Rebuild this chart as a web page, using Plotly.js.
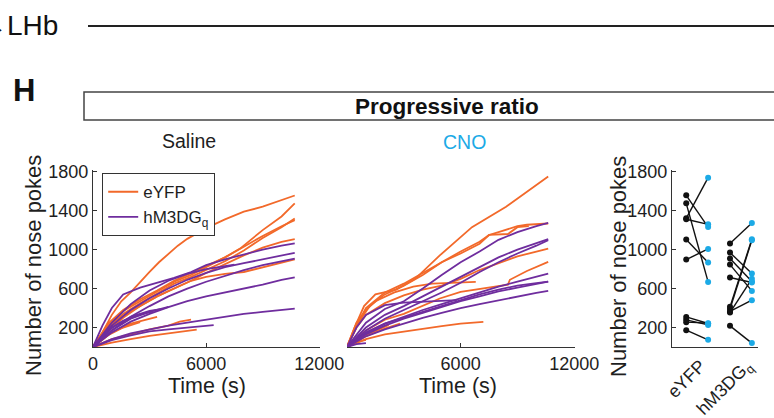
<!DOCTYPE html>
<html>
<head>
<meta charset="utf-8">
<script src="https://cdn.plot.ly/plotly-3.0.1.min.js"></script>
<style>html,body{margin:0;padding:0;background:#fff;}#chart{width:774px;height:418px;}</style>
</head>
<body>
<div id="chart"></div>
<script>
// ---------------- DATA ----------------
// Saline session, eYFP mice: time (s) and cumulative nose pokes
const salineEyfpTimes = [
  [0,500,1000,1500,2000,2500,3000,3500,4000,4500,5000,6000,7000,8000,9000,10000,10700],
  [0,800,1600,2500,3400,4300,5200,6000,7000,7800,9000,10000,10700],
  [0,800,1600,2500,3400,4300,5200,6000,7000,8000,9000,10000,10700],
  [0,800,1600,2500,3400,4300,5200,6000,7000,8000,9000,10000,10700],
  [0,800,1600,2500,3400,4300,5200,6000,7000,8000,9000,10000,10700],
  [0,800,1600,2500,3400,4300,5200,6000,7000,8000,9000,10000,10700],
  [0,1000,2000,3000,3400],
  [0,1000,2000,3000,4000,4600,5200],
  [0,800,1600,2500],
  [0,1000,2000,3000,4000,5000,5500]
];
const salineEyfpCounts = [
  [0,150,330,470,560,670,770,870,960,1040,1110,1220,1310,1390,1440,1510,1555],
  [0,220,370,470,570,670,740,820,920,1010,1200,1340,1475],
  [0,200,340,450,550,650,720,790,880,990,1120,1230,1320],
  [0,240,380,490,580,680,760,830,920,1030,1140,1240,1303],
  [0,180,320,420,520,600,680,760,850,940,1020,1080,1107],
  [0,160,300,420,520,600,680,720,750,770,820,870,899],
  [0,150,240,290,309],
  [0,80,130,180,220,260,280],
  [0,120,200,255],
  [0,45,80,115,140,165,178]
];
// Saline session, hM3DGq mice
const salineHm3Times = [
  [0,500,1000,1600,2500,3400,4300,5200,6000,7000,8000,9000,10000,10700],
  [0,1000,2000,3000,4000,5000,6000,7000,8000,9000,10000,10700],
  [0,1000,2000,3000,4000,5000,6000,7000,8000,9000,10000,10700],
  [0,1000,2000,3000,4000,5000,6000,7000,7500],
  [0,1000,2000,3000,4000,5000,6000,7000,8000,9000,10000,10700],
  [0,1000,2000,3000,4000,5000,6000,7000,8000,9000,10000,10700],
  [0,1000,2000,3000,4000],
  [0,1000,2000,3000,3600],
  [0,800,1600,2400,3200],
  [0,1000,2000,3000,4000,5000,6400]
];
const salineHm3Counts = [
  [0,220,400,540,610,660,710,770,840,900,950,1000,1040,1063],
  [0,220,380,500,600,690,760,820,860,900,940,967],
  [0,170,310,420,520,600,670,730,790,840,880,908],
  [0,250,440,580,680,750,800,830,846],
  [0,150,260,340,410,470,520,560,600,640,690,714],
  [0,80,140,180,220,250,280,310,340,360,380,395],
  [0,170,290,360,412],
  [0,200,310,370,389],
  [0,170,270,330,365],
  [0,70,120,160,180,200,224]
];
// CNO session, eYFP mice
const cnoEyfpTimes = [
  [0,400,900,1500,2600,3600,4900,6600,8400,9500,10625],
  [0,600,1200,2000,3000,4000,5000,6000,7000,7500,8000,9000,9500,10625],
  [0,500,1000,2000,3000,4000,5000,6000,7000,7500,8500,9000,9600],
  [0,500,1000,2000,3000,4000,5000,6000,7000,8000,9000,10000,10625],
  [0,1000,2000,3000,4900,6000,8500,8600,9500,10625],
  [0,500,1000,1500,2500,3500,4500,5500,6800],
  [0,1000,2000,3000,4000,5000,6000,7200],
  [0,1000,2000,2800],
  [0,1000,2200],
  [0,500,1000]
];
const cnoEyfpCounts = [
  [0,200,420,540,590,700,940,1230,1440,1590,1750],
  [0,250,420,540,630,740,870,980,1080,1150,1180,1240,1255,1268],
  [0,220,400,560,650,760,870,960,1060,1150,1160,1230,1240],
  [0,200,330,450,530,590,630,700,790,860,930,980,1011],
  [0,170,280,340,498,566,640,690,780,874],
  [0,250,380,470,560,620,650,660,668],
  [0,80,130,160,190,215,240,258],
  [0,110,190,241],
  [0,120,227],
  [0,50,74]
];
// CNO session, hM3DGq mice
const cnoHm3Times = [
  [0,1000,2000,3000,4000,5000,6000,7000,8000,9000,10000,10625],
  [0,1000,2000,3000,4000,5000,6000,7000,8000,9000,10000,10625],
  [0,1000,2000,3000,4000,5000,6000,7000,8000,9000,10000,10625],
  [0,1000,2000,3000,4000,5000,6000,7000,8000,9000,10000,10625],
  [0,1000,2000,3000,4000,5000,6000,7000,8000,9000,10000,10625],
  [0,1000,2000,3000,4000,5000,6000,7000,8000,9000,10000,10625],
  [0,1000,2000,3000,4000,5000,6000,7000,8000,9000,10000,10625],
  [0,500,1000,2000,3000,4000,5000,5800],
  [0,500,1000]
];
const cnoHm3Counts = [
  [0,250,390,470,600,740,870,980,1100,1180,1240,1273],
  [0,200,330,420,520,620,720,820,920,1000,1070,1107],
  [0,170,290,380,470,560,660,770,870,960,1040,1097],
  [0,150,240,310,380,440,500,560,620,670,720,754],
  [0,130,220,290,350,410,470,520,570,610,650,672],
  [0,140,240,300,360,420,480,540,590,630,655,670],
  [0,110,180,240,300,350,400,440,480,520,555,576],
  [0,200,330,430,455,465,475,481],
  [0,30,40]
];
// Totals per mouse (right panel): saline vs CNO
const totalEyfpSaline = [1557,1475,1321,1311,1103,897,309,279,255,173];
const totalEyfpCNO    = [1231,668,1738,1259,867,1007,241,227,245,74];
const totalHm3Saline  = [1062,969,908,846,713,412,389,365,354,217];
const totalHm3CNO     = [1273,754,672,576,662,1107,1097,481,700,40];
const groupLabels = ['eYFP','hM3DG<sub>q</sub>'];
const yTicks = [200,600,1000,1400,1800];
const timeTicksSaline = [0,6000,12000];
const timeTicksCNO = [6000,12000];

// ---------------- STYLE ----------------
const W = 774, H = 418;
const px = x => x / W;
const py = y => 1 - y / H;
const ORANGE = '#F2692A', PURPLE = '#6F2D9E', BLUE = '#1CAAE6';
const FONT = 'Liberation Sans, Arial, sans-serif';
const TXT = '#1e1e1e';

const traces = [];
function addCurves(times, counts, color, xa, ya, name, legendFirst) {
  times.forEach((t, i) => {
    traces.push({
      x: t, y: counts[i], type: 'scatter', mode: 'lines',
      line: {color: color, width: 1.8},
      xaxis: xa, yaxis: ya, name: name, legendgroup: name,
      showlegend: legendFirst && i === 0, hoverinfo: 'skip'
    });
  });
}
addCurves(salineEyfpTimes, salineEyfpCounts, ORANGE, 'x', 'y', 'eYFP', true);
addCurves(salineHm3Times, salineHm3Counts, PURPLE, 'x', 'y', 'hM3DG<sub>q</sub>', true);
addCurves(cnoEyfpTimes, cnoEyfpCounts, ORANGE, 'x2', 'y2', 'eYFP', false);
addCurves(cnoHm3Times, cnoHm3Counts, PURPLE, 'x2', 'y2', 'hM3DG<sub>q</sub>', false);

// Paired totals
function addPairs(sal, cno, xs, xc) {
  sal.forEach((s, i) => {
    traces.push({x: [xs, xc], y: [s, cno[i]], type: 'scatter', mode: 'lines',
      line: {color: '#111', width: 1.4}, xaxis: 'x3', yaxis: 'y3', showlegend: false, hoverinfo: 'skip'});
  });
  traces.push({x: sal.map(() => xs), y: sal, type: 'scatter', mode: 'markers',
    marker: {color: '#111', size: 6}, xaxis: 'x3', yaxis: 'y3', showlegend: false, hoverinfo: 'skip'});
  traces.push({x: cno.map(() => xc), y: cno, type: 'scatter', mode: 'markers',
    marker: {color: BLUE, size: 6}, xaxis: 'x3', yaxis: 'y3', showlegend: false, hoverinfo: 'skip'});
}
addPairs(totalEyfpSaline, totalEyfpCNO, 1, 2);
addPairs(totalHm3Saline, totalHm3CNO, 3, 4);

const yDom = [py(347), py(170)];
const yRange = [0, 1817];
const baseAxis = {
  showline: true, linecolor: '#333', linewidth: 1.2, ticks: 'inside', ticklen: 4,
  tickcolor: '#333', tickwidth: 1.1, showgrid: false, zeroline: false,
  tickfont: {family: FONT, size: 18, color: TXT}, fixedrange: true
};

const layout = {
  width: W, height: H, margin: {l: 0, r: 0, t: 0, b: 0},
  paper_bgcolor: '#fff', plot_bgcolor: 'rgba(0,0,0,0)',
  font: {family: FONT, color: TXT},
  showlegend: true,
  legend: {x: px(102), y: py(173), xanchor: 'left', yanchor: 'top',
    bordercolor: '#333', borderwidth: 1.2, bgcolor: '#fff',
    font: {family: FONT, size: 17, color: TXT}, tracegroupgap: 0, itemwidth: 30},
  xaxis: Object.assign({}, baseAxis, {domain: [px(93), px(320)], range: [0, 12040],
    tickvals: timeTicksSaline, ticktext: timeTicksSaline.map(String), anchor: 'y'}),
  yaxis: Object.assign({}, baseAxis, {domain: yDom, range: yRange, tickvals: yTicks,
    ticktext: yTicks.map(String), anchor: 'x'}),
  xaxis2: Object.assign({}, baseAxis, {domain: [px(347), px(575)], range: [0, 12040],
    tickvals: timeTicksCNO, ticktext: timeTicksCNO.map(String), anchor: 'y2'}),
  yaxis2: Object.assign({}, baseAxis, {domain: yDom, range: yRange, showline: false,
    showticklabels: false, ticks: '', anchor: 'x2'}),
  xaxis3: Object.assign({}, baseAxis, {domain: [px(672), px(758)], range: [0.35, 4.28],
    tickvals: [1.65, 3.75], ticktext: groupLabels, tickangle: -45, ticks: '', anchor: 'y3'}),
  yaxis3: Object.assign({}, baseAxis, {domain: yDom, range: yRange, tickvals: yTicks,
    ticktext: yTicks.map(String), anchor: 'x3'}),
  shapes: [
    {type: 'line', xref: 'paper', yref: 'paper', x0: px(88), x1: px(776), y0: py(26), y1: py(26),
      line: {color: '#222', width: 2}},
    {type: 'rect', xref: 'paper', yref: 'paper', x0: px(84), x1: px(790), y0: py(92), y1: py(120),
      line: {color: '#444', width: 1.5}}
  ],
  annotations: [
    {text: '→LHb', x: px(60), y: py(25), xanchor: 'right', yanchor: 'middle', showarrow: false,
      xref: 'paper', yref: 'paper', font: {family: FONT, size: 28, color: '#111'}},
    {text: '<b>H</b>', x: px(24), y: py(91), xanchor: 'center', yanchor: 'middle', showarrow: false,
      xref: 'paper', yref: 'paper', font: {family: FONT, size: 31, color: '#111'}},
    {text: '<b>Progressive ratio</b>', x: px(447), y: py(106), xanchor: 'center', yanchor: 'middle',
      showarrow: false, xref: 'paper', yref: 'paper', font: {family: FONT, size: 22.5, color: '#111'}},
    {text: 'Saline', x: px(189), y: py(141), xanchor: 'center', yanchor: 'middle', showarrow: false,
      xref: 'paper', yref: 'paper', font: {family: FONT, size: 19.5, color: TXT}},
    {text: 'CNO', x: px(465), y: py(142), xanchor: 'center', yanchor: 'middle', showarrow: false,
      xref: 'paper', yref: 'paper', font: {family: FONT, size: 19.5, color: BLUE}},
    {text: 'Number of nose pokes', x: px(33), y: py(266), xanchor: 'center', yanchor: 'middle',
      textangle: -90, showarrow: false, xref: 'paper', yref: 'paper', font: {family: FONT, size: 22, color: TXT}},
    {text: 'Number of nose pokes', x: px(618), y: py(267), xanchor: 'center', yanchor: 'middle',
      textangle: -90, showarrow: false, xref: 'paper', yref: 'paper', font: {family: FONT, size: 22, color: TXT}},
    {text: 'Time (s)', x: px(207), y: py(386), xanchor: 'center', yanchor: 'middle', showarrow: false,
      xref: 'paper', yref: 'paper', font: {family: FONT, size: 21.5, color: TXT}},
    {text: 'Time (s)', x: px(458), y: py(386), xanchor: 'center', yanchor: 'middle', showarrow: false,
      xref: 'paper', yref: 'paper', font: {family: FONT, size: 21.5, color: TXT}}
  ]
};

Plotly.newPlot('chart', traces, layout, {staticPlot: true, displayModeBar: false});
</script>
</body>
</html>
